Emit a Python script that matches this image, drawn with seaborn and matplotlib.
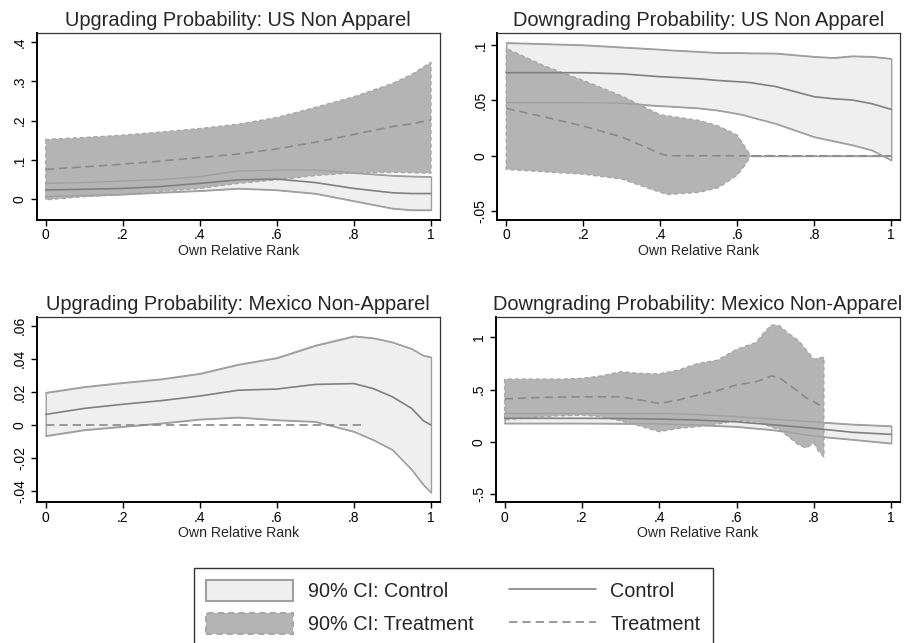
import numpy as np
import pandas as pd
import matplotlib
matplotlib.use("Agg")
import matplotlib.pyplot as plt
from matplotlib.patches import Patch
from matplotlib.lines import Line2D
import seaborn as sns

sns.set_style("ticks")
plt.rcParams['font.family'] = ['Liberation Sans', 'DejaVu Sans']

# ---------------- data ----------------
titles = ["Upgrading Probability: US Non Apparel",
          "Downgrading Probability: US Non Apparel",
          "Upgrading Probability: Mexico Non-Apparel",
          "Downgrading Probability: Mexico Non-Apparel"]
x_label = "Own Relative Rank"
x_ticks = [0, 0.2, 0.4, 0.6, 0.8, 1]
x_ticklabels = ["0", ".2", ".4", ".6", ".8", "1"]

# Panel 1: US upgrading
x1 = [0, .1, .2, .3, .4, .5, .6, .7, .8, .9, .95, 1]
c_up1 = [0.040, 0.042, 0.046, 0.050, 0.057, 0.072, 0.074, 0.074, 0.067, 0.060, 0.058, 0.057]
c_mid1 = [0.023, 0.025, 0.027, 0.032, 0.040, 0.049, 0.051, 0.042, 0.027, 0.016, 0.014, 0.014]
c_lo1 = [0.006, 0.009, 0.012, 0.017, 0.021, 0.027, 0.023, 0.014, -0.005, -0.024, -0.028, -0.028]
t_x1 = x1
t_up1 = [0.152, 0.157, 0.163, 0.171, 0.180, 0.191, 0.208, 0.234, 0.261, 0.295, 0.318, 0.349]
t_mid1 = [0.076, 0.082, 0.089, 0.097, 0.106, 0.115, 0.128, 0.145, 0.165, 0.185, 0.192, 0.202]
t_lo1 = [-0.002, 0.006, 0.012, 0.020, 0.027, 0.040, 0.049, 0.060, 0.067, 0.068, 0.067, 0.066]
y_ticks1 = [0, 0.1, 0.2, 0.3, 0.4]
y_ticklabels1 = ["0", ".1", ".2", ".3", ".4"]

# Panel 2: US downgrading
x2 = [0, .1, .2, .3, .4, .42, .5, .55, .6, .62, .635, .7, .8, .85, .9, .95, 1]
c_up2 = [0.102, 0.101, 0.100, 0.098, 0.096, 0.0955, 0.094, 0.093, 0.093, 0.0928, 0.0927,
         0.0925, 0.0895, 0.0885, 0.0900, 0.0895, 0.0877]
c_mid2 = [0.075, 0.075, 0.075, 0.074, 0.0714, 0.0711, 0.0695, 0.068, 0.0669, 0.0665, 0.066,
          0.0625, 0.0533, 0.0515, 0.0503, 0.047, 0.0419]
c_lo2 = [0.048, 0.048, 0.048, 0.0475, 0.045, 0.0447, 0.043, 0.041, 0.038, 0.0365, 0.035,
         0.029, 0.017, 0.0133, 0.0096, 0.005, -0.004]
t_x2 = x2
t_up2 = [0.097, 0.081, 0.068, 0.054, 0.037, 0.036, 0.032, 0.027, 0.0187, 0.008, 0,
         0, 0, 0, 0, 0, 0]
t_mid2 = [0.0428, 0.035, 0.0268, 0.017, 0.002, 0, 0, 0, 0, 0, 0, 0, 0, 0, 0, 0, 0]
t_lo2 = [-0.0123, -0.0145, -0.0166, -0.021, -0.033, -0.035, -0.033, -0.029, -0.0175, -0.0085, 0,
         0, 0, 0, 0, 0, 0]
y_ticks2 = [-0.05, 0, 0.05, 0.1]
y_ticklabels2 = ["-.05", "0", ".05", ".1"]

# Panel 3: Mexico upgrading
x3 = [0, .1, .2, .3, .4, .5, .6, .7, .8, .85, .9, .95, .98, 1]
c_up3 = [0.0195, 0.023, 0.0255, 0.0277, 0.031, 0.0365, 0.0405, 0.048, 0.0536, 0.0525,
         0.050, 0.046, 0.042, 0.041]
c_mid3 = [0.0064, 0.010, 0.0125, 0.0147, 0.0175, 0.021, 0.0217, 0.0245, 0.025, 0.022,
          0.017, 0.010, 0.0026, 0.0]
c_lo3 = [-0.0066, -0.003, -0.001, 0.001, 0.0034, 0.0046, 0.003, 0.002, -0.004, -0.009,
         -0.015, -0.027, -0.036, -0.0408]
t_x3 = [0, 0.83]
t_up3 = [0, 0]
t_mid3 = [0, 0]
t_lo3 = [0, 0]
y_ticks3 = [-0.04, -0.02, 0, 0.02, 0.04, 0.06]
y_ticklabels3 = ["-.04", "-.02", "0", ".02", ".04", ".06"]

# Panel 4: Mexico downgrading
x4 = [0, .1, .2, .3, .4, .5, .6, .7, .8, .9, 1]
c_up4 = [0.27, 0.27, 0.27, 0.27, 0.27, 0.26, 0.24, 0.214, 0.19, 0.166, 0.15]
c_mid4 = [0.224, 0.224, 0.224, 0.222, 0.217, 0.207, 0.19, 0.16, 0.128, 0.09, 0.07]
c_lo4 = [0.176, 0.176, 0.176, 0.174, 0.17, 0.16, 0.144, 0.11, 0.054, 0.02, -0.016]
t_x4 = [0, .05, .1, .15, .2, .25, .3, .35, .4, .45, .5, .55, .6, .65, .67, .69, .71,
        .73, .76, .78, .8, .81, .826]
t_up4 = [0.60, 0.60, 0.60, 0.60, 0.607, 0.63, 0.67, 0.655, 0.65, 0.687, 0.75, 0.78,
         0.885, 0.95, 1.04, 1.118, 1.115, 1.05, 0.97, 0.88, 0.79, 0.80, 0.81]
t_mid4 = [0.41, 0.418, 0.425, 0.428, 0.43, 0.43, 0.43, 0.40, 0.367, 0.40, 0.447, 0.49,
          0.543, 0.575, 0.60, 0.63, 0.615, 0.56, 0.48, 0.42, 0.383, 0.36, 0.342]
t_lo4 = [0.21, 0.225, 0.24, 0.25, 0.255, 0.24, 0.20, 0.15, 0.096, 0.128, 0.144, 0.17,
         0.20, 0.19, 0.17, 0.14, 0.12, 0.06, -0.03, -0.06, -0.013, -0.08, -0.147]
y_ticks4 = [-0.5, 0, 0.5, 1]
y_ticklabels4 = ["-.5", "0", ".5", "1"]

legend_labels = ["90% CI: Control", "90% CI: Treatment", "Control", "Treatment"]

# ---------------- styles ----------------
C_FILL = "#efefef"
C_EDGE = "#a0a0a0"
T_FILL = "#b4b4b4"
T_EDGE = "#a8a8a8"
C_LINE = "#808080"
T_LINE = "#8a8a8a"
T_DASH = (0, (5, 3))
E_DASH = (0, (3, 2))

W, H = 906, 643
fig = plt.figure(figsize=(W / 100, H / 100), dpi=100)


def frac(left, top, right, bottom):
    return [left / W, 1 - bottom / H, (right - left) / W, (bottom - top) / H]


panels = [
    dict(pos=frac(36.7, 33.3, 440, 220), xlim=(-0.0234, 1.0234), ylim=(-0.0535, 0.423),
         x=x1, cu=c_up1, cm=c_mid1, cl=c_lo1, tx=t_x1, tu=t_up1, tm=t_mid1, tl=t_lo1,
         yt=y_ticks1, ytl=y_ticklabels1),
    dict(pos=frac(497, 33.3, 899.7, 220), xlim=(-0.024, 1.022), ylim=(-0.058, 0.1106),
         x=x2, cu=c_up2, cm=c_mid2, cl=c_lo2, tx=t_x2, tu=t_up2, tm=t_mid2, tl=t_lo2,
         yt=y_ticks2, ytl=y_ticklabels2),
    dict(pos=frac(36.7, 316.7, 440, 502.3), xlim=(-0.0234, 1.0234), ylim=(-0.0467, 0.0654),
         x=x3, cu=c_up3, cm=c_mid3, cl=c_lo3, tx=t_x3, tu=t_up3, tm=t_mid3, tl=t_lo3,
         yt=y_ticks3, ytl=y_ticklabels3),
    dict(pos=frac(495.7, 316.7, 899.7, 502.3), xlim=(-0.023, 1.022), ylim=(-0.581, 1.198),
         x=x4, cu=c_up4, cm=c_mid4, cl=c_lo4, tx=t_x4, tu=t_up4, tm=t_mid4, tl=t_lo4,
         yt=y_ticks4, ytl=y_ticklabels4),
]

for p, title in zip(panels, titles):
    ax = fig.add_axes(p["pos"])
    cdf = pd.DataFrame({"x": p["x"], "up": p["cu"], "mid": p["cm"], "lo": p["cl"]})
    tdf = pd.DataFrame({"x": p["tx"], "up": p["tu"], "mid": p["tm"], "lo": p["tl"]})

    # control CI fill
    ax.fill_between(cdf["x"], cdf["lo"], cdf["up"], facecolor=C_FILL, edgecolor=C_EDGE,
                    linewidth=1.0, zorder=1)
    # treatment CI fill
    if not np.allclose(tdf["up"], tdf["lo"]):
        ax.fill_between(tdf["x"], tdf["lo"], tdf["up"], facecolor=T_FILL, edgecolor=T_EDGE,
                        linewidth=1.0, linestyle=E_DASH, zorder=2)
        flat = tdf[np.isclose(tdf["up"], tdf["lo"]) & (tdf["x"] > tdf["x"].iloc[0])]
        if len(flat) > 1:
            sns.lineplot(data=flat, x="x", y="up", ax=ax, color=C_EDGE, linewidth=1.0,
                         estimator=None, sort=False, zorder=3)
    # control CI bounds on top
    sns.lineplot(data=cdf, x="x", y="up", ax=ax, color=C_EDGE, linewidth=1.0,
                 estimator=None, sort=False, zorder=3)
    sns.lineplot(data=cdf, x="x", y="lo", ax=ax, color=C_EDGE, linewidth=1.0,
                 estimator=None, sort=False, zorder=3)
    # means
    sns.lineplot(data=cdf, x="x", y="mid", ax=ax, color=C_LINE, linewidth=1.2,
                 estimator=None, sort=False, zorder=4)
    sns.lineplot(data=tdf, x="x", y="mid", ax=ax, color=T_LINE, linewidth=1.2,
                 linestyle=T_DASH, estimator=None, sort=False, zorder=4)

    ax.set_xlim(*p["xlim"])
    ax.set_ylim(*p["ylim"])
    ax.set_xticks(x_ticks)
    ax.set_xticklabels(x_ticklabels)
    ax.set_yticks(p["yt"])
    ax.set_yticklabels(p["ytl"], rotation=90, va="center")
    ax.set_xlabel(x_label, fontsize=10.2, labelpad=1)
    ax.set_ylabel("")
    ax.set_title(title, fontsize=14.4, pad=5)
    ax.tick_params(axis="both", direction="out", length=4, width=1, colors="black",
                   labelsize=10, pad=2)
    ax.tick_params(axis="y", pad=3)
    for s in ["top", "right"]:
        ax.spines[s].set_visible(True)
        ax.spines[s].set_color("#333333")
        ax.spines[s].set_linewidth(0.9)
    for s in ["left", "bottom"]:
        ax.spines[s].set_color("black")
        ax.spines[s].set_linewidth(1.4)
    ax.set_facecolor("white")

handles = [
    Patch(facecolor=C_FILL, edgecolor=C_EDGE, linewidth=1.5),
    Patch(facecolor=T_FILL, edgecolor=T_EDGE, linewidth=1.5, linestyle=E_DASH),
    Line2D([], [], color=C_LINE, linewidth=1.2),
    Line2D([], [], color=T_LINE, linewidth=1.2, linestyle=T_DASH),
]
leg = fig.legend(handles, legend_labels, ncol=2, loc="upper left",
                 bbox_to_anchor=(194 / W, 1 - 568 / H), borderaxespad=0,
                 fontsize=14.3, frameon=True, fancybox=False, edgecolor="black",
                 handlelength=4.35, handleheight=1.25, handletextpad=0.75,
                 labelspacing=0.58, borderpad=0.62, columnspacing=1.8)
leg.get_frame().set_linewidth(1.0)

fig.savefig("out.png", dpi=100, facecolor="white")
